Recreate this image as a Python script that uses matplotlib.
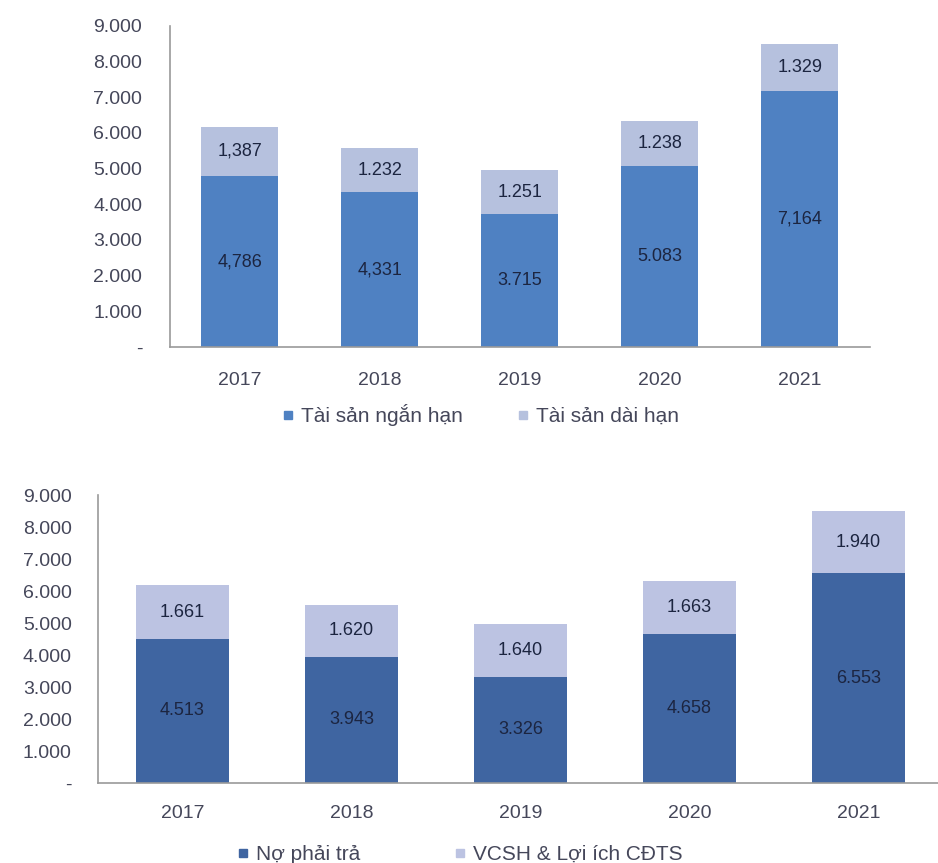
import matplotlib

matplotlib.use("Agg")
import matplotlib.pyplot as plt  # noqa: E402
import numpy as np  # noqa: E402
from matplotlib.lines import Line2D  # noqa: E402

years = ["2017", "2018", "2019", "2020", "2021"]

# top chart: tai san
ngan_han = [4786, 4331, 3715, 5083, 7164]
dai_han = [1387, 1232, 1251, 1238, 1329]
ngan_han_labels = ["4,786", "4,331", "3.715", "5.083", "7,164"]
dai_han_labels = ["1,387", "1.232", "1.251", "1.238", "1.329"]

# bottom chart: nguon von
no_phai_tra = [4513, 3943, 3326, 4658, 6553]
vcsh = [1661, 1620, 1640, 1663, 1940]
no_labels = ["4.513", "3.943", "3.326", "4.658", "6.553"]
vcsh_labels = ["1.661", "1.620", "1.640", "1.663", "1.940"]

yticks = [0, 1000, 2000, 3000, 4000, 5000, 6000, 7000, 8000, 9000]
ytick_labels = ["-", "1.000", "2.000", "3.000", "4.000", "5.000",
                "6.000", "7.000", "8.000", "9.000"]

plt.rcParams["font.family"] = ["Liberation Sans", "DejaVu Sans"]
TICK_COLOR = "#45475a"
LABEL_COLOR = "#1c2540"
SPINE_COLOR = "#9a9a9a"


def draw_panel(ax, low, high, low_lbl, high_lbl, c_low, c_high, ypad, xpad):
    x = np.arange(len(years))
    w = 0.55
    ax.bar(x, low, width=w, color=c_low)
    ax.bar(x, high, width=w, bottom=low, color=c_high)
    for i in range(len(years)):
        ax.text(x[i], low[i] / 2, low_lbl[i], ha="center", va="center",
                fontsize=13, color=LABEL_COLOR)
        ax.text(x[i], low[i] + high[i] / 2, high_lbl[i], ha="center",
                va="center", fontsize=13, color=LABEL_COLOR)
    ax.set_xlim(-0.5, len(years) - 0.5)
    ax.set_ylim(0, 9000)
    ax.set_xticks(x, labels=years)
    ax.set_yticks(yticks, labels=ytick_labels)
    ax.tick_params(axis="both", length=0, labelsize=14, colors=TICK_COLOR)
    ax.tick_params(axis="y", pad=ypad)
    ax.tick_params(axis="x", pad=xpad)
    for s in ("top", "right"):
        ax.spines[s].set_visible(False)
    for s in ("left", "bottom"):
        ax.spines[s].set_color(SPINE_COLOR)
        ax.spines[s].set_linewidth(1.2)


fig = plt.figure(figsize=(9.38, 8.63), dpi=100)

ax1 = fig.add_axes([0.1812, 0.598, 0.7463, 0.372])
draw_panel(ax1, ngan_han, dai_han, ngan_han_labels, dai_han_labels,
           "#4f81c2", "#b6c1de", ypad=20, xpad=18)

ax2 = fig.add_axes([0.1045, 0.0927, 0.9008, 0.3337])
draw_panel(ax2, no_phai_tra, vcsh, no_labels, vcsh_labels,
           "#3f65a1", "#bcc3e2", ypad=19, xpad=16)


def square(color):
    return Line2D([], [], marker="s", linestyle="none", markersize=6,
                  markerfacecolor=color, markeredgecolor=color)


fig.legend([square("#4f81c2"), square("#b6c1de")],
           ["Tài sản ngắn hạn", "Tài sản dài hạn"],
           loc="center", bbox_to_anchor=(0.512, 0.519), ncol=2, frameon=False,
           fontsize=15, labelcolor=TICK_COLOR, handlelength=0.6,
           handletextpad=0.3, columnspacing=2.6)
fig.legend([square("#3f65a1"), square("#bcc3e2")],
           ["Nợ phải trả", "VCSH & Lợi ích CĐTS"],
           loc="center", bbox_to_anchor=(0.49, 0.01), ncol=2, frameon=False,
           fontsize=15, labelcolor=TICK_COLOR, handlelength=0.6,
           handletextpad=0.3, columnspacing=4.5)

fig.savefig("out.png", dpi=100)
